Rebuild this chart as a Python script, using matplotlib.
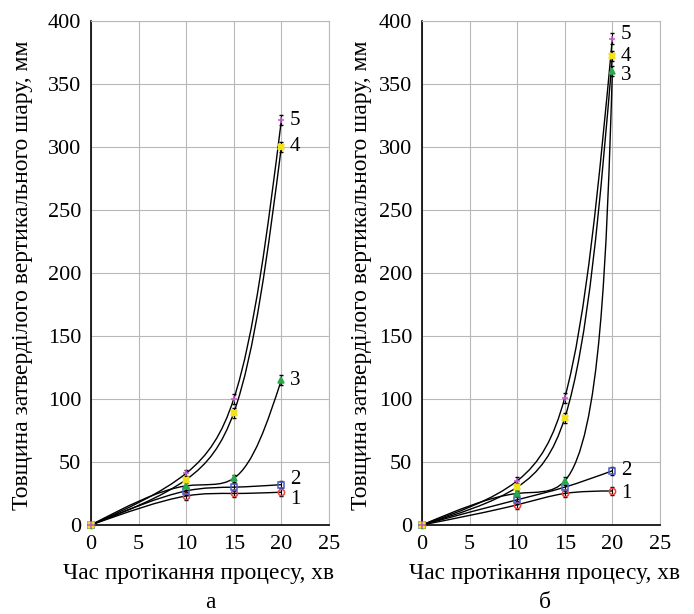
import numpy as np
import matplotlib.pyplot as plt
from matplotlib.path import Path
from matplotlib.patches import PathPatch

plt.rcParams['font.family'] = ['Liberation Serif', 'DejaVu Serif']

# time of the process, min
time_min = [0, 10, 15, 20]
curve_names = ['1', '2', '3', '4', '5']

# thickness of hardened vertical layer, mm (panel а)
thick_a_1 = [0, 23, 25, 26]
thick_a_2 = [0, 27, 30, 32]
thick_a_3 = [0, 31, 37, 115]
thick_a_4 = [0, 36, 89, 300]
thick_a_5 = [0, 41, 100, 321]

# panel б
thick_b_1 = [0, 16, 25, 27]
thick_b_2 = [0, 20, 30, 43]
thick_b_3 = [0, 25, 35, 360]
thick_b_4 = [0, 30, 85, 372]
thick_b_5 = [0, 35, 101, 386]

# error bar half widths
err_a = [[0, 3, 3, 3], [0, 3, 3, 3], [0, 3, 3, 4], [0, 3, 4, 4], [0, 3, 4, 4]]
err_b = [[0, 3, 3, 3], [0, 3, 3, 3], [0, 3, 3, 4], [0, 3, 4, 4], [0, 3, 4, 4]]

series_a = [thick_a_1, thick_a_2, thick_a_3, thick_a_4, thick_a_5]
series_b = [thick_b_1, thick_b_2, thick_b_3, thick_b_4, thick_b_5]

colors = ['#e8453c', '#4a5cc8', '#2aa84a', '#f2e21a', '#c455cc']
markers = ['o', 's', '^', 'X', '+']
fills = ['none', 'none', 'full', 'full', 'full']


def natural_second_derivs(t, v):
    n = len(t)
    h = np.diff(t)
    A = np.zeros((n, n))
    rhs = np.zeros(n)
    A[0, 0] = A[-1, -1] = 1.0
    for i in range(1, n - 1):
        A[i, i - 1] = h[i - 1]
        A[i, i] = 2 * (h[i - 1] + h[i])
        A[i, i + 1] = h[i]
        rhs[i] = 6 * ((v[i + 1] - v[i]) / h[i] - (v[i] - v[i - 1]) / h[i - 1])
    return np.linalg.solve(A, rhs)


def spline_path(ax, x, y):
    # parametric natural spline (centripetal), built in display space, drawn as bezier
    pts = ax.transData.transform(np.column_stack([x, y]))
    seg = np.sqrt(np.hypot(*np.diff(pts, axis=0).T))
    t = np.concatenate([[0], np.cumsum(seg)])
    h = np.diff(t)
    M = np.column_stack([natural_second_derivs(t, pts[:, k]) for k in range(2)])
    verts = [pts[0]]
    codes = [Path.MOVETO]
    for i in range(len(t) - 1):
        d = (pts[i + 1] - pts[i]) / h[i]
        d0 = d - M[i] * h[i] / 2 - (M[i + 1] - M[i]) * h[i] / 6
        d1 = d + M[i + 1] * h[i] / 2 - (M[i + 1] - M[i]) * h[i] / 6
        verts += [pts[i] + d0 * h[i] / 3, pts[i + 1] - d1 * h[i] / 3, pts[i + 1]]
        codes += [Path.CURVE4] * 3
    verts = ax.transData.inverted().transform(np.array(verts))
    return Path(verts, codes)


fig = plt.figure(figsize=(6.94, 6.14), dpi=100)
ax_a = fig.add_axes([0.131, 0.145, 0.343, 0.821])
ax_b = fig.add_axes([0.608, 0.145, 0.343, 0.821])

label_shift = {'a': [-5, 4, 0, 0, 0], 'b': [-2, 0, -3, 0, 3]}
xlabel_x = {'a': 0.45, 'b': 0.515}
ylabel_x = {'a': -0.245, 'b': -0.21}
sub_x = {'a': 0.5, 'b': 0.517}

for ax, series, errs, key, sub in [(ax_a, series_a, err_a, 'a', 'а'),
                                    (ax_b, series_b, err_b, 'b', 'б')]:
    ax.set_xlim(0, 25)
    ax.set_ylim(0, 400)
    ax.set_xticks(range(0, 26, 5))
    ax.set_yticks(range(0, 401, 50))
    ax.grid(True, color='#b8b8b8', linewidth=0.8)
    ax.set_axisbelow(True)
    for side in ['top', 'right']:
        ax.spines[side].set_color('#b8b8b8')
        ax.spines[side].set_linewidth(0.8)
    for side in ['left', 'bottom']:
        ax.spines[side].set_linewidth(1.2)
    ax.tick_params(length=0, labelsize=16, pad=7)
    ax.set_xlabel('Час протікання процесу, хв', fontsize=16.8)
    ax.xaxis.set_label_coords(xlabel_x[key], -0.076)
    ax.set_ylabel('Товщина затверділого вертикального шару, мм', fontsize=17)
    ax.yaxis.set_label_coords(ylabel_x[key], 0.495)

    for k, vals in enumerate(series):
        path = spline_path(ax, time_min, vals)
        ax.add_patch(PathPatch(path, facecolor='none', edgecolor='black',
                               linewidth=1.0, clip_on=False, zorder=2))
        ax.errorbar(time_min, vals, yerr=errs[k], fmt='none', ecolor='black',
                    elinewidth=0.8, capsize=1.5, zorder=3)
        ax.plot(time_min, vals, linestyle='none', marker=markers[k],
                color=colors[k], markersize=4.5, markeredgewidth=1.1,
                fillstyle=fills[k], zorder=4, clip_on=False)
        ax.annotate(curve_names[k], (time_min[-1], vals[-1]),
                    xytext=(6, label_shift[key][k]), textcoords='offset points',
                    va='center', ha='left', fontsize=15)

    pos = ax.get_position()
    fig.text(pos.x0 + sub_x[key] * pos.width, 0.018, sub,
             ha='center', va='center', fontsize=16.8)

fig.savefig('out.png', dpi=100)
